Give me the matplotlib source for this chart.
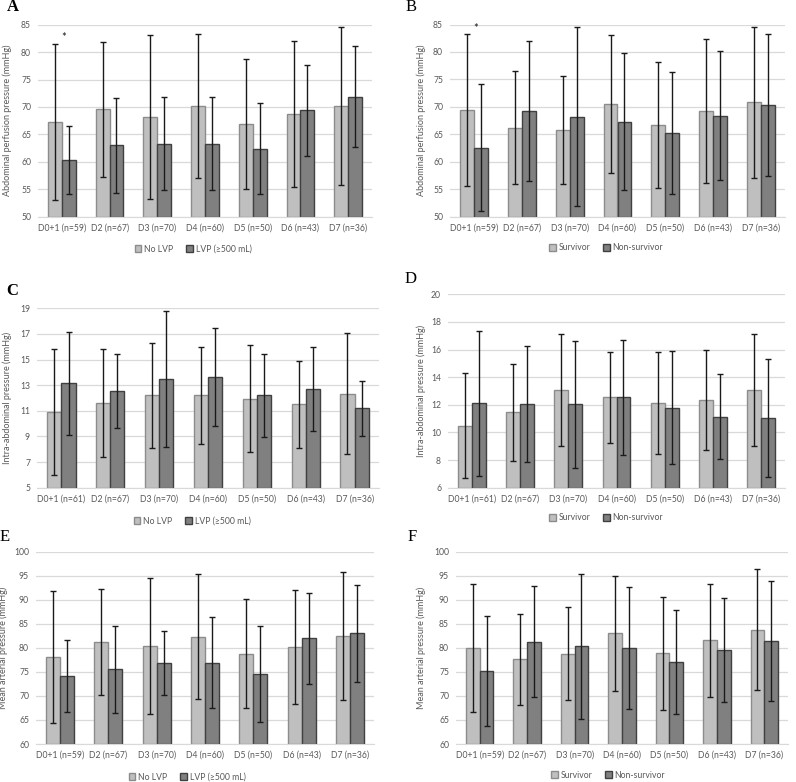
import matplotlib
matplotlib.use("Agg")
import matplotlib.pyplot as plt
from matplotlib.patches import Patch
import numpy as np

plt.rcParams["font.family"] = ["Lato", "DejaVu Sans"]

DAYS = ["D0+1", "D2", "D3", "D4", "D5", "D6", "D7"]
N_APP = [59, 67, 70, 60, 50, 43, 36]
N_IAP = [61, 67, 70, 60, 50, 43, 36]
N_MAP = [59, 67, 70, 60, 50, 43, 36]

# A: APP by LVP
a_nolvp = [67.2, 69.6, 68.2, 70.2, 66.9, 68.7, 70.1]
a_nolvp_sd = [14.2, 12.3, 14.9, 13.1, 11.9, 13.3, 14.4]
a_lvp = [60.3, 63.0, 63.3, 63.3, 62.4, 69.4, 71.9]
a_lvp_sd = [6.2, 8.7, 8.45, 8.5, 8.3, 8.25, 9.2]

# B: APP by outcome
b_surv = [69.4, 66.2, 65.8, 70.5, 66.7, 69.3, 70.8]
b_surv_sd = [13.9, 10.3, 9.8, 12.5, 11.5, 13.1, 13.7]
b_nonsurv = [62.6, 69.3, 68.2, 67.3, 65.3, 68.4, 70.4]
b_nonsurv_sd = [11.5, 12.75, 16.3, 12.5, 11.1, 11.7, 12.95]

# C: IAP by LVP
c_nolvp = [10.9, 11.6, 12.2, 12.2, 11.95, 11.5, 12.35]
c_nolvp_sd = [4.9, 4.2, 4.1, 3.8, 4.15, 3.4, 4.75]
c_lvp = [13.15, 12.55, 13.5, 13.65, 12.2, 12.7, 11.2]
c_lvp_sd = [4.0, 2.9, 5.3, 3.8, 3.25, 3.3, 2.15]

# D: IAP by outcome
d_surv = [10.5, 11.45, 13.05, 12.55, 12.15, 12.35, 13.05]
d_surv_sd = [3.8, 3.5, 4.05, 3.3, 3.7, 3.65, 4.05]
d_nonsurv = [12.1, 12.05, 12.05, 12.55, 11.8, 11.15, 11.05]
d_nonsurv_sd = [5.25, 4.2, 4.6, 4.15, 4.1, 3.05, 4.3]

# E: MAP by LVP
e_nolvp = [78.1, 81.2, 80.4, 82.3, 78.8, 80.2, 82.4]
e_nolvp_sd = [13.8, 11.0, 14.2, 13.0, 11.4, 11.8, 13.3]
e_lvp = [74.2, 75.5, 76.8, 76.9, 74.5, 82.0, 83.0]
e_lvp_sd = [7.45, 9.1, 6.7, 9.45, 10.0, 9.5, 10.0]

# F: MAP by outcome
f_surv = [80.0, 77.6, 78.8, 83.0, 78.9, 81.6, 83.8]
f_surv_sd = [13.35, 9.4, 9.75, 12.0, 11.75, 11.75, 12.55]
f_nonsurv = [75.1, 81.3, 80.3, 79.9, 77.1, 79.5, 81.4]
f_nonsurv_sd = [11.45, 11.6, 15.05, 12.7, 10.85, 10.85, 12.55]

W, H = 796, 782
LIGHT, LIGHT_EDGE = "#bfbfbf", "#8c8c8c"
DARK, DARK_EDGE = "#808080", "#404040"
TXT = "#595959"
GRID = "#d9d9d9"

fig = plt.figure(figsize=(W / 100, H / 100), dpi=100)


def panel(box, letter, letter_xy, bold, ns, s1, e1, s2, e2, ylim, step,
          ylabel, ylab_x, labels, leg_xy, star=None):
    l, t, r, b = box
    ax = fig.add_axes([l / W, 1 - b / H, (r - l) / W, (b - t) / H])
    x = np.arange(len(DAYS))
    w = 0.29
    ax.bar(x - w / 2, np.array(s1) - ylim[0], w, bottom=ylim[0], color=LIGHT,
           edgecolor=LIGHT_EDGE, linewidth=1, zorder=2)
    ax.bar(x + w / 2, np.array(s2) - ylim[0], w, bottom=ylim[0], color=DARK,
           edgecolor=DARK_EDGE, linewidth=1, zorder=2)
    ax.errorbar(x - w / 2, s1, yerr=e1, fmt="none", ecolor="#1a1a1a",
                elinewidth=1, capsize=2.5, capthick=1, zorder=3)
    ax.errorbar(x + w / 2, s2, yerr=e2, fmt="none", ecolor="#1a1a1a",
                elinewidth=1, capsize=2.5, capthick=1, zorder=3)
    ax.set_xlim(-0.5, len(DAYS) - 0.5)
    ax.set_ylim(*ylim)
    ax.set_yticks(np.arange(ylim[0], ylim[1] + 0.01, step))
    ax.set_xticks(x)
    ax.set_xticklabels([f"{d} (n={n})" for d, n in zip(DAYS, ns)])
    ax.tick_params(length=0, labelsize=6.2, colors=TXT, pad=5)
    ax.grid(axis="y", color=GRID, linewidth=0.9, zorder=0)
    ax.set_axisbelow(True)
    for s in ["top", "right", "left"]:
        ax.spines[s].set_visible(False)
    ax.spines["bottom"].set_color(GRID)
    ax.set_ylabel(ylabel, fontsize=6.5, color=TXT)
    ax.yaxis.set_label_coords((ylab_x - l) / (r - l), 0.5)
    fig.text(letter_xy[0] / W, 1 - letter_xy[1] / H, letter,
             family="Liberation Serif", fontsize=12,
             fontweight="bold" if bold else "normal", ha="center", va="center")
    handles = [Patch(facecolor=LIGHT, edgecolor=LIGHT_EDGE, label=labels[0]),
               Patch(facecolor=DARK, edgecolor=DARK_EDGE, label=labels[1])]
    fig.legend(handles=handles, loc="center", ncol=2, frameon=False,
               bbox_to_anchor=(leg_xy[0] / W, 1 - leg_xy[1] / H),
               fontsize=6.2, handlelength=0.8, handleheight=0.8,
               handletextpad=0.3, columnspacing=1.5, labelcolor=TXT)
    if star is not None:
        ax.text(star[0] - w / 2 + 0.19, star[1], "*", fontsize=8,
                ha="center", va="center", color="#1a1a1a")
    return ax


lvp_labels = ["No LVP", "LVP (\u2265500 mL)"]
out_labels = ["Survivor", "Non-survivor"]

panel((38, 24.7, 372, 216.7), "A", (13, 7), True, N_APP,
      a_nolvp, a_nolvp_sd, a_lvp, a_lvp_sd, (50, 85), 5,
      "Abdominal perfusion pressure (mmHg)", 12, lvp_labels, (193, 249),
      star=(0, 82.6))
panel((450, 24.5, 785, 216.7), "B", (411, 7), False, N_APP,
      b_surv, b_surv_sd, b_nonsurv, b_nonsurv_sd, (50, 85), 5,
      "Abdominal perfusion pressure (mmHg)", 426, out_labels, (606, 248),
      star=(0, 84.2))
panel((37, 308.3, 379, 487.7), "C", (12, 291), True, N_IAP,
      c_nolvp, c_nolvp_sd, c_lvp, c_lvp_sd, (5, 19), 2,
      "Intra-abdominal pressure (mmHg)", 12, lvp_labels, (192, 521))
panel((448, 294.3, 785, 487.7), "D", (411, 279), False, N_IAP,
      d_surv, d_surv_sd, d_nonsurv, d_nonsurv_sd, (6, 20), 2,
      "Intra-abdominal pressure (mmHg)", 426, out_labels, (606, 518))
panel((36, 551.7, 374, 744), "E", (5, 537), False, N_MAP,
      e_nolvp, e_nolvp_sd, e_lvp, e_lvp_sd, (60, 100), 5,
      "Mean arterial pressure (mmHg)", 8, lvp_labels, (187, 777))
panel((456, 551.7, 788, 744), "F", (412, 537), False, N_MAP,
      f_surv, f_surv_sd, f_nonsurv, f_nonsurv_sd, (60, 100), 5,
      "Mean arterial pressure (mmHg)", 426, out_labels, (608, 775))

fig.savefig("out.png", dpi=100)
